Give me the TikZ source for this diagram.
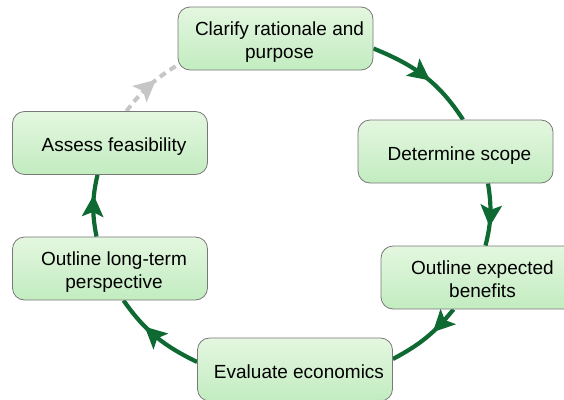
\documentclass[tikz,border=0pt]{standalone}
\usepackage{fontspec}
\setmainfont{Liberation Sans}
\usetikzlibrary{arrows.meta,decorations.markings}
\definecolor{flowgreen}{RGB}{14,106,50}
\definecolor{dashgray}{RGB}{198,198,198}
\definecolor{boxtop}{RGB}{228,247,224}
\definecolor{boxbot}{RGB}{194,236,192}
\definecolor{boxline}{RGB}{120,120,120}
\pgfdeclarelayer{bg}
\pgfsetlayers{bg,main}
\newcommand{\boxtxt}[1]{\hspace*{8pt}\raisebox{-4pt}[\height][\depth]{\begin{tabular}{@{}c@{}}#1\end{tabular}}}
\tikzset{
  stepbox/.style={rectangle, rounded corners=12pt, draw=boxline, line width=0.8pt,
    top color=boxtop, bottom color=boxbot, minimum width=195pt, minimum height=63pt,
    inner sep=0pt, font=\fontsize{19}{23.5}\selectfont},
  flow/.style={draw=flowgreen, line width=4.2pt,
    decoration={markings, mark=at position #1 with {\fill[flowgreen] (7pt,0) -- (-15pt,11pt) -- (-10pt,0) -- (-15pt,-11pt) -- cycle;}},
    postaction=decorate},
  backflow/.style={draw=dashgray, line width=4pt, dash pattern=on 7pt off 5pt,
    decoration={markings, mark=at position #1 with {\fill[dashgray] (7pt,0) -- (-15pt,11pt) -- (-10pt,0) -- (-15pt,-11pt) -- cycle;}},
    postaction=decorate}
}
\begin{document}
\begin{tikzpicture}[x=1pt,y=1pt]
\useasboundingbox (0,0) rectangle (564,-399);
\node[stepbox] (b1) at (275.5,-38.5) {\boxtxt{Clarify rationale and\\purpose}};
\node[stepbox] (b2) at (455.5,-151.5) {\boxtxt{Determine scope}};
\node[stepbox] (b5) at (478.5,-277.5) {\boxtxt{Outline expected\\benefits}};
\node[stepbox] (b4) at (295,-369.5) {\boxtxt{Evaluate economics}};
\node[stepbox] (b6) at (110,-268.5) {\boxtxt{Outline long-term\\perspective}};
\node[stepbox] (b3) at (110,-143) {\boxtxt{Assess feasibility}};
\begin{pgfonlayer}{bg}
\path[flow=0.5] ([yshift=-10pt]b1.east) to[out=-22, in=123] ([xshift=7.5pt]b2.north);
\path[flow=0.58] ([xshift=32.5pt]b2.south) to[out=-81, in=76] ([xshift=7pt]b5.north);
\path[flow=0.3] ([xshift=-25pt]b5.south) to[out=-129, in=28] ([yshift=10.5pt]b4.east);
\path[flow=0.58] ([yshift=7.5pt]b4.west) to[out=154, in=-55] ([xshift=13.5pt]b6.south);
\path[flow=0.56] ([xshift=-13.5pt]b6.north) to[out=101, in=-103] ([xshift=-12.5pt]b3.south);
\path[backflow=0.52] ([xshift=16.5pt]b3.north) to[out=53, in=212] ([yshift=-26.5pt]b1.west);
\end{pgfonlayer}
\end{tikzpicture}
\end{document}
